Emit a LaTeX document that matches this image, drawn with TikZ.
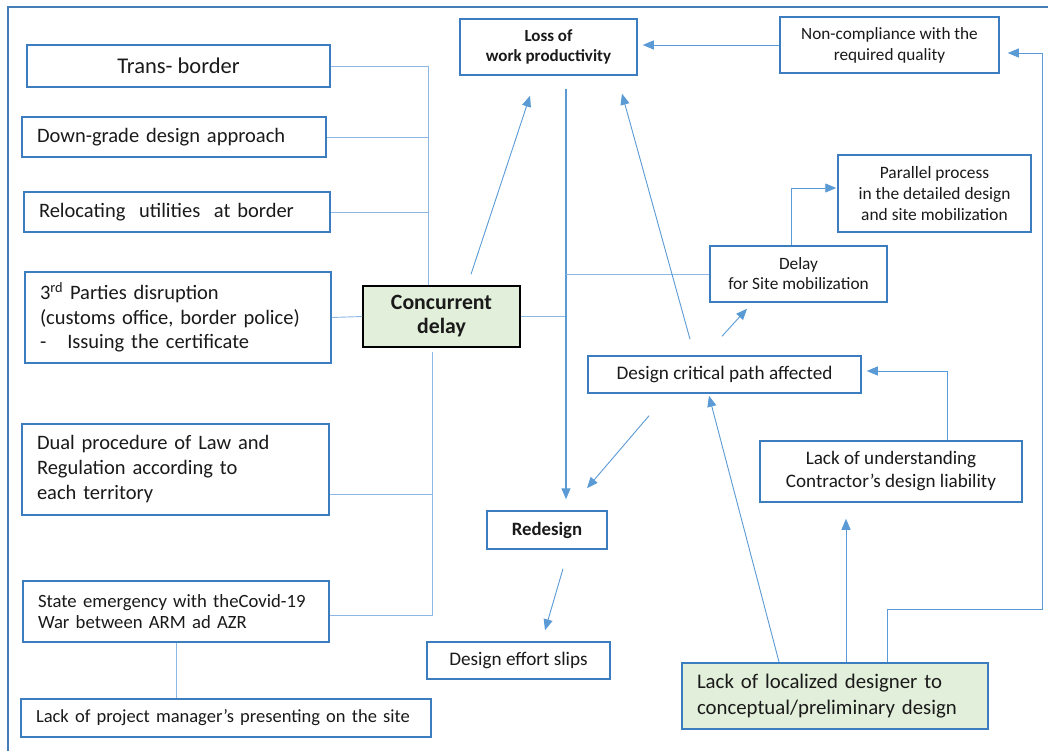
\documentclass[tikz,border=0pt]{standalone}
\usepackage{fontspec}
\setmainfont{Carlito}
\usetikzlibrary{arrows.meta,calc}
\definecolor{boxblue}{HTML}{3C7DC0}
\definecolor{lineblue}{HTML}{8DB8E4}
\definecolor{arrblue}{HTML}{5B9BD5}
\definecolor{lgreen}{HTML}{E2EFDA}
\definecolor{txt}{HTML}{1A1A1A}
\newcommand\myfs[2]{\fontsize{#1}{#2}\selectfont}
\tikzset{
  box/.style={draw=boxblue, line width=1.5pt, fill=white, inner sep=0pt, align=center, text=txt},
  lbox/.style={box, align=left, inner xsep=15pt},
  conn/.style={draw=lineblue, line width=0.9pt},
  arr/.style={draw=arrblue, line width=0.9pt, -{Triangle[length=11pt,width=9pt]}},
}
\begin{document}
\begin{tikzpicture}[x=1pt,y=-1pt]
\useasboundingbox (0,0) rectangle (1048,751);
\fill[white] (0,0) rectangle (1048,751);
\draw[boxblue!85!gray, line width=1.3pt] (1048,7) -- (8,7) -- (8,751);

% left column
\node[box, minimum width=303pt, minimum height=42pt, font=\myfs{22.5}{24}] (tb) at (178.5,66) {Trans- border};
\node[lbox, text width=274pt, minimum height=40pt, font=\myfs{20.5}{24}] (dg) at (174,137) {Down-grade design approach};
\node[lbox, text width=276pt, minimum height=40pt, font=\myfs{20.5}{24}] (rel) at (177,212) {Relocating\ \ utilities\ \ at border};
\node[lbox, text width=276pt, minimum height=91pt, font=\myfs{20.5}{24.5}] (tp) at (178,317.5) {3\textsuperscript{rd} Parties disruption\\(customs office, border police)\\-\hspace{21pt}Issuing the certificate};
\node[lbox, text width=277pt, minimum height=91pt, font=\myfs{20.5}{25}] (dual) at (175.5,469.5) {Dual procedure of Law and\\Regulation according to\\each territory};
\node[lbox, text width=276pt, minimum height=61pt, font=\myfs{18.7}{21.5}] (se) at (176,611.5) {State emergency with theCovid-19\\War between ARM ad AZR};
\node[lbox, text width=380pt, minimum height=38pt, font=\myfs{18.5}{21}] (pm) at (226,718) {Lack of project manager’s presenting on the site};

% centre
\node[box, draw=black, fill=lgreen, minimum width=157pt, minimum height=61pt, font=\bfseries\myfs{21.8}{24}] (cd) at (441.5,316.5) {Concurrent\\delay};
\node[box, minimum width=177pt, minimum height=56pt, font=\bfseries\myfs{17}{20.5}] (loss) at (548.5,47) {Loss of\\work productivity};
\node[box, minimum width=120pt, minimum height=38pt, font=\bfseries\myfs{18.8}{20}] (rd) at (547,530) {Redesign};
\node[box, minimum width=183pt, minimum height=37pt, font=\myfs{19.2}{20}] (des) at (518.5,660.5) {Design effort slips};

% right
\node[box, minimum width=219pt, minimum height=56pt, font=\myfs{17.2}{21}] (nc) at (889.5,45) {Non-compliance with the\\required quality};
\node[box, minimum width=193pt, minimum height=77pt, font=\myfs{17.4}{21}] (par) at (934.5,193.5) {Parallel process\\in the detailed design\\and site mobilization};
\node[box, minimum width=177pt, minimum height=56pt, font=\myfs{17.3}{20}] (delay) at (798.5,274) {Delay\\for Site mobilization};
\node[box, minimum width=273pt, minimum height=37pt, font=\myfs{19.2}{21}] (dcp) at (724.5,374.5) {Design critical path affected};
\node[box, minimum width=262pt, minimum height=61pt, font=\myfs{19.1}{23}] (lu) at (891,471.5) {Lack of understanding\\Contractor’s design liability};
\node[lbox, fill=lgreen, line width=2.2pt, text width=276pt, minimum height=66pt, font=\myfs{20.8}{26}] (ll) at (835,696) {Lack of localized designer to\\conceptual/preliminary design};

% coordinates
\coordinate (busU) at (428,0);
\coordinate (busL) at (432,0);
\coordinate (mv) at (566,0);
\coordinate (rt) at (1042,609);

% left bus
\draw[conn] (tb.east) -- (tb.east -| busU) -- (cd.north -| busU);
\draw[conn] (dg.east) -- (dg.east -| busU);
\draw[conn] (rel.east) -- (rel.east -| busU);
\draw[conn] (tp.east) -- (cd.west);
\draw[conn] ([yshift=-4pt]cd.south -| busL) -- ([yshift=-3.5pt]se.east -| busL) -- ([yshift=-3.5pt]se.east);
\draw[conn] ([yshift=-25pt]dual.east) -- ([yshift=-25pt]dual.east -| busL);
\draw[conn] (se.south) -- (se.south |- pm.north);

% main vertical
\draw[conn] (cd.east) -- (cd.east -| mv);
\draw[arr, line width=1.1pt] ([yshift=-13pt]loss.south -| mv) -- ([yshift=11pt]rd.north -| mv);
\draw[conn] (delay.west -| mv) -- (delay.west);

% arrows
\draw[arr] ([shift={(29.5pt,11pt)}]cd.north) -- ([shift={(-18.5pt,-20pt)}]loss.south);
\draw[arr] ([shift={(-34.5pt,16pt)}]dcp.north) -- ([shift={(73.5pt,-18pt)}]loss.south);
\draw[arr] (nc.west) -- ([xshift=5pt]loss.east |- nc.west);
\draw[arr] ([xshift=-7.5pt]delay.north) |- ([xshift=-1pt,yshift=5.5pt]par.west);
\draw[arr] ([shift={(-2.5pt,19pt)}]dcp.north) -- ([shift={(-51.5pt,-6pt)}]delay.south);
\draw[arr] ([xshift=56pt]lu.north) |- ([xshift=5pt,yshift=3.5pt]dcp.east);
\draw[arr] ([shift={(-75.5pt,-22pt)}]dcp.south) -- ([shift={(40pt,22pt)}]rd.north);
\draw[arr] ([xshift=-56pt]ll.north) -- ([shift={(-15.5pt,-2pt)}]dcp.south);
\draw[arr] ([xshift=11pt]ll.north) -- ([shift={(-45pt,-16pt)}]lu.south);
\draw[arr] ([xshift=52pt]ll.north) |- (rt) |- ([xshift=8pt,yshift=-8pt]nc.east);
\draw[arr] ([shift={(16pt,-19pt)}]rd.south) -- ([shift={(26.5pt,11pt)}]des.north);
\end{tikzpicture}
\end{document}
